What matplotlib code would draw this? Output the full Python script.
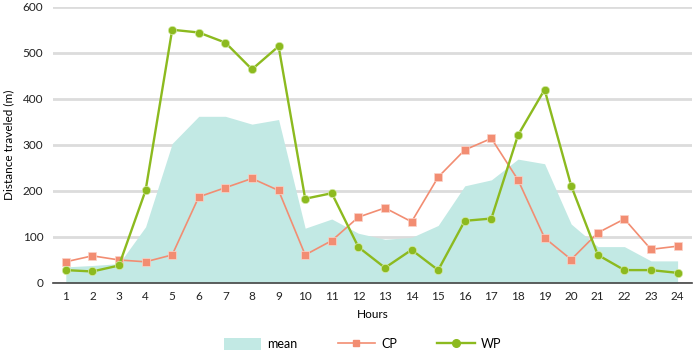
import numpy as np
import matplotlib
matplotlib.use("Agg")
import matplotlib.pyplot as plt
from matplotlib.patches import Patch
from matplotlib.lines import Line2D

plt.rcParams["font.family"] = ["Lato", "DejaVu Sans"]

hours = list(range(1, 25))
mean = [35, 38, 42, 122, 303, 362, 362, 345, 355, 119, 139, 108,
        95, 99, 125, 211, 224, 269, 259, 128, 79, 79, 48, 48]
cp = [46, 59, 50, 46, 61, 187, 207, 227, 201, 61, 92, 143,
      163, 133, 230, 289, 314, 224, 98, 51, 109, 139, 73, 80]
wp = [28, 25, 38, 201, 550, 544, 522, 464, 514, 183, 195, 78,
      33, 72, 28, 135, 140, 321, 420, 211, 61, 28, 28, 22]

col_mean = "#c2e9e4"
col_cp = "#f28d72"
col_wp = "#8cba1f"

fig = plt.figure(figsize=(6.93, 3.54), dpi=100)
ax = fig.add_axes([0.0765, 0.2006, 0.922, 0.7804])

ax.fill_between(hours, 0, mean, color=col_mean, lw=0, zorder=2)
ax.plot(hours, cp, color=col_cp, lw=1.2, marker="s", ms=5.2,
        mec="#fbd3c8", mew=0.5, zorder=3)
ax.plot(hours, wp, color=col_wp, lw=1.7, marker="o", ms=6,
        mec="#d6eaa8", mew=0.5, zorder=4)

ax.set_xlim(0.52, 24.54)
ax.set_ylim(0, 600)
ax.set_xticks(hours)
ax.set_yticks(range(0, 601, 100))
ax.yaxis.grid(True, color="#dcdcdc", lw=2)
ax.set_axisbelow(True)
for s in ["top", "right", "left"]:
    ax.spines[s].set_visible(False)
ax.spines["bottom"].set_color("#444444")
ax.spines["bottom"].set_linewidth(1.2)
ax.spines["bottom"].set_zorder(5)
ax.tick_params(axis="both", length=0, labelsize=8.5, colors="#222222")
ax.tick_params(axis="y", pad=7)
ax.tick_params(axis="x", pad=6)
ax.set_xlabel("Hours", fontsize=8.5, labelpad=5)
ax.set_ylabel("Distance traveled (m)", fontsize=8.5, labelpad=6)

handles = [Patch(facecolor=col_mean, edgecolor="none"),
           Line2D([], [], color=col_cp, lw=1.2, marker="s", ms=5),
           Line2D([], [], color=col_wp, lw=1.7, marker="o", ms=5.5)]
fig.legend(handles, ["mean", "CP", "WP"], loc="center", ncol=3,
           bbox_to_anchor=(0.523, 0.028), frameon=False, fontsize=9,
           handlelength=3.0, handleheight=1.1, columnspacing=3.2,
           handletextpad=0.5)

fig.savefig("out.png", dpi=100)
